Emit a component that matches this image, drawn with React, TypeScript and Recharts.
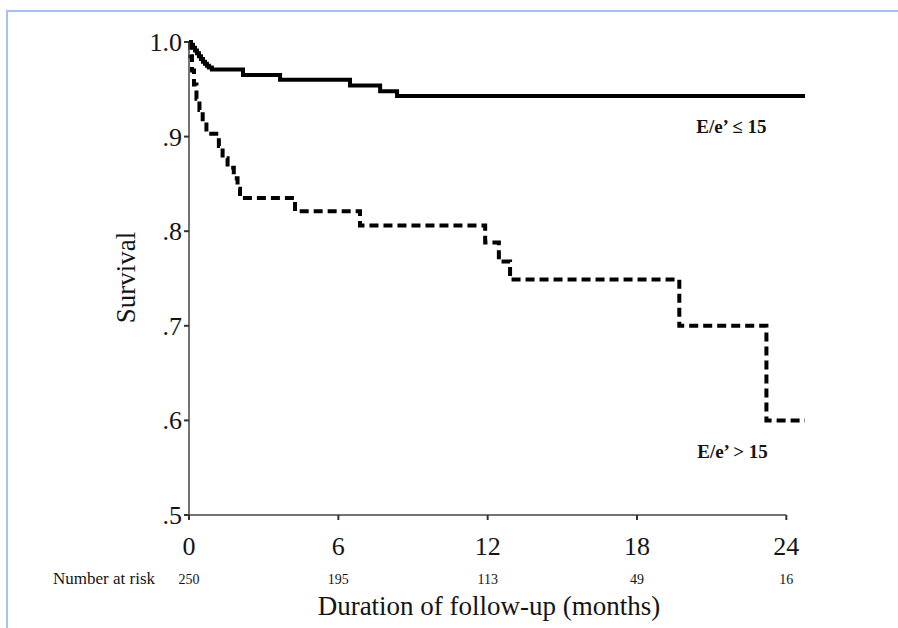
import React from "react";
import { LineChart, Line, XAxis, YAxis, ReferenceLine, ReferenceDot } from "recharts";

// E/e' <= 15 group (solid)
const lowTimes = [0, 0.08, 0.16, 0.24, 0.32, 0.4, 0.48, 0.56, 0.64, 0.72, 0.8, 0.92, 2.17, 3.66, 6.47, 7.68, 8.36, 24.75];
const lowSurvival = [1.0, 0.997, 0.994, 0.991, 0.988, 0.985, 0.982, 0.979, 0.977, 0.975, 0.973, 0.971, 0.965, 0.96, 0.954, 0.948, 0.943, 0.943];

// E/e' > 15 group (dashed)
const highTimes = [0, 0.05, 0.12, 0.2, 0.3, 0.42, 0.55, 0.7, 1.2, 1.35, 1.55, 1.8, 1.95, 2.05, 4.26, 6.87, 11.9, 12.45, 12.9, 19.7, 23.2, 24.75];
const highSurvival = [1.0, 0.985, 0.97, 0.955, 0.94, 0.928, 0.915, 0.903, 0.89, 0.877, 0.867, 0.856, 0.845, 0.835, 0.821, 0.806, 0.788, 0.768, 0.749, 0.7, 0.6, 0.6];

const xTicks = [0, 6, 12, 18, 24];
const atRisk = [250, 195, 113, 49, 16];
const yTicks = [0.5, 0.6, 0.7, 0.8, 0.9, 1.0];
const yTickLabels = [".5", ".6", ".7", ".8", ".9", "1.0"];

const lowLabel = "E/e\u2019 \u2264 15";
const highLabel = "E/e\u2019 > 15";
const lowLabelPos = { t: 20.38, s: 0.904 };
const highLabelPos = { t: 20.42, s: 0.56 };

const lowData = lowTimes.map((t, i) => ({ t, s: lowSurvival[i] }));
const highData = highTimes.map((t, i) => ({ t, s: highSurvival[i] }));

const FONT = "'Liberation Serif', 'Times New Roman', serif";
const INK = "#141414";
const BORDER = "#a6c3eb";

const XTick = (props: any) => {
  const { x, y, payload } = props;
  const idx = xTicks.indexOf(payload.value);
  return (
    <g>
      <text x={x} y={y + 33} textAnchor="middle" fontFamily={FONT} fontSize={26} fill={INK}>
        {payload.value}
      </text>
      <text x={x} y={y + 62} textAnchor="middle" fontFamily={FONT} fontSize={14} fill={INK}>
        {idx >= 0 ? atRisk[idx] : ""}
      </text>
      {idx === 0 ? (
        <text x={x - 34} y={y + 62} textAnchor="end" fontFamily={FONT} fontSize={17} fill={INK}>
          Number at risk
        </text>
      ) : null}
    </g>
  );
};

const YTick = (props: any) => {
  const { x, y, payload } = props;
  const idx = yTicks.findIndex((v) => Math.abs(v - payload.value) < 1e-9);
  return (
    <text x={x} y={y + 9} textAnchor="end" fontFamily={FONT} fontSize={26} fill={INK}>
      {idx >= 0 ? yTickLabels[idx] : ""}
    </text>
  );
};

const makeAnno = (text: string) => (props: any) => {
  const vb = props.viewBox || {};
  const cx = vb.cx !== undefined ? vb.cx : vb.x;
  const cy = vb.cy !== undefined ? vb.cy : vb.y;
  return (
    <text x={cx} y={cy} textAnchor="start" fontFamily={FONT} fontSize={19} fontWeight="bold" fill={INK}>
      {text}
    </text>
  );
};

export default function App() {
  return (
    <div style={{ position: "absolute", left: 0, top: 0, width: 898, height: 628, background: "#fff" }}>
      <svg width={898} height={628} style={{ position: "absolute", left: 0, top: 0 }}>
        <path d="M7,628 L7,11 L898,11" fill="none" stroke={BORDER} strokeWidth={2} />
      </svg>
      <div style={{ position: "absolute", left: 0, top: 0 }}>
        <LineChart width={898} height={628} margin={{ top: 42, right: 93, bottom: 0, left: 0 }}>
          <XAxis
            type="number"
            dataKey="t"
            domain={[0, 24.75]}
            ticks={xTicks}
            axisLine={false}
            tickLine={{ stroke: "#333", strokeWidth: 2 }}
            tickSize={5}
            tick={<XTick />}
            height={113}
            interval={0}
            label={{
              content: (p: any) => {
                const vb = p.viewBox || { x: 189, y: 515, width: 616 };
                return (
                  <text x={vb.x + 300} y={vb.y + 100} textAnchor="middle" fontFamily={FONT} fontSize={27} fill={INK}>
                    Duration of follow-up (months)
                  </text>
                );
              },
            }}
          />
          <YAxis
            type="number"
            domain={[0.5, 1.0]}
            ticks={yTicks}
            width={189}
            axisLine={{ stroke: "#444", strokeWidth: 1.5 }}
            tickLine={{ stroke: "#333", strokeWidth: 2 }}
            tickSize={5}
            tick={<YTick />}
            interval={0}
            label={{
              content: (p: any) => {
                const vb = p.viewBox || { x: 0, y: 42, width: 189, height: 473 };
                const cx = 135;
                const cy = vb.y + vb.height / 2 - 1;
                return (
                  <text
                    x={cx}
                    y={cy}
                    transform={`rotate(-90, ${cx}, ${cy})`}
                    textAnchor="middle"
                    fontFamily={FONT}
                    fontSize={27}
                    fill={INK}
                  >
                    Survival
                  </text>
                );
              },
            }}
          />
          <ReferenceLine
            segment={[
              { x: xTicks[0], y: yTicks[0] },
              { x: xTicks[xTicks.length - 1], y: yTicks[0] },
            ]}
            stroke="#444"
            strokeWidth={1.5}
          />
          <Line
            data={lowData}
            dataKey="s"
            type="stepAfter"
            stroke="#000"
            strokeWidth={4}
            dot={false}
            activeDot={false}
            isAnimationActive={false}
          />
          <Line
            data={highData}
            dataKey="s"
            type="stepAfter"
            stroke="#000"
            strokeWidth={4}
            strokeDasharray="9 5"
            dot={false}
            activeDot={false}
            isAnimationActive={false}
          />
          <ReferenceDot x={lowLabelPos.t} y={lowLabelPos.s} r={0} fill="none" stroke="none" label={{ content: makeAnno(lowLabel) }} />
          <ReferenceDot x={highLabelPos.t} y={highLabelPos.s} r={0} fill="none" stroke="none" label={{ content: makeAnno(highLabel) }} />
        </LineChart>
      </div>
    </div>
  );
}
